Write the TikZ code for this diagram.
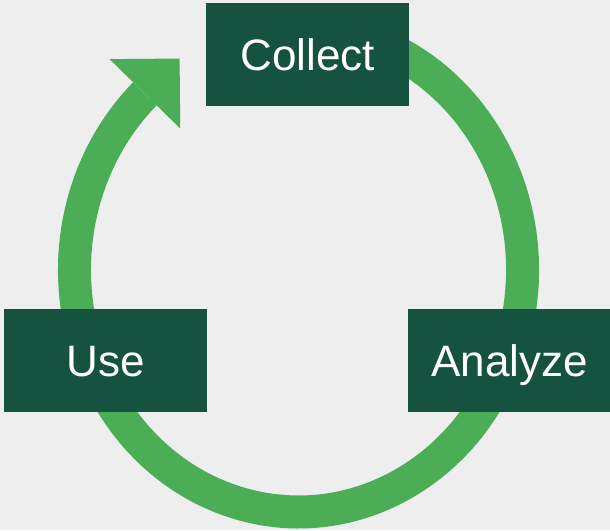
\documentclass[tikz,border=0pt]{standalone}
\usepackage{fontspec}
\setmainfont{Liberation Sans}
\usetikzlibrary{arrows.meta}
\definecolor{bg}{HTML}{EEEEEE}
\definecolor{ringgreen}{HTML}{4BAE57}
\definecolor{boxgreen}{HTML}{155240}
\begin{document}
\begin{tikzpicture}[x=1pt,y=1pt,
  stage/.style={fill=boxgreen, text=white, minimum width=203pt, minimum height=103pt,
    inner sep=0pt, text height=31.5pt, text depth=0pt,
    font=\fontsize{44}{50}\selectfont},
  cyclearrow/.style={draw=ringgreen, line width=33pt,
    -{Triangle[width=99pt,length=49.5pt,line width=0pt]}}]
\fill[bg] (0,0) rectangle (610,530);
\useasboundingbox (0,0) rectangle (610,530);
\coordinate (ringstart) at (356.5,493.8);
\draw[cyclearrow] (ringstart) arc[start angle=75, end angle=-226.7, x radius=224, y radius=242] -- ++(45.5:49.5) coordinate (tip);
\node[stage] (collect) at (307.5,475.5) {Collect};
\node[stage] (use) at (105.5,169.5) {Use};
\node[stage] (analyze) at (509.5,169.5) {Analyze};
\end{tikzpicture}
\end{document}
